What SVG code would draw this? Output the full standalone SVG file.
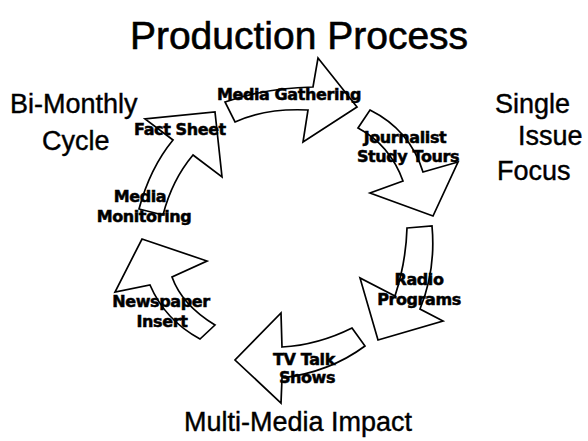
<svg xmlns="http://www.w3.org/2000/svg" width="588" height="441" viewBox="0 0 588 441">
  <style>
    .arrow { fill: #ffffff; stroke: #000000; stroke-width: 1.7; stroke-linejoin: miter; }
    .title { font-family: "Liberation Sans", Arial, sans-serif; font-size: 39px; fill: #000; stroke: #000; stroke-width: 0.6; text-anchor: middle; }
    .side { font-family: "Liberation Sans", Arial, sans-serif; font-size: 27px; fill: #000; stroke: #000; stroke-width: 0.4; }
    .label { font-family: "DejaVu Sans", Verdana, sans-serif; font-weight: bold; font-size: 16px; fill: #000; stroke: #000; stroke-width: 0.5; text-anchor: middle; letter-spacing: -0.4px; }
  </style>
  <rect width="588" height="441" fill="#ffffff"/>

  <text class="title" x="299" y="49">Production Process</text>
  <text class="side" x="10" y="113">Bi-Monthly</text>
  <text class="side" x="42" y="150">Cycle</text>
  <text class="side" x="495" y="113">Single</text>
  <text class="side" x="518" y="145">Issue</text>
  <text class="side" x="497" y="180">Focus</text>
  <text class="side" x="298" y="431" text-anchor="middle" font-size="25.5">Multi-Media Impact</text>

  <g id="connectors">
    <!-- Media Gathering: arrow to the right -->
    <path class="arrow" d="M318,58 L357,107 L303,142 L308,110 Q265,108 235,122 L225,102 Q265,88 313,87 Z"/>
    <!-- Journalist Study Tours: arrow bending down -->
    <path class="arrow" d="M370,110 Q410,130 423,172 L458,162 L433,216 L370,193 L403,181 Q390,145 358,128 Z"/>
    <!-- Radio Programs: arrow down-left -->
    <path class="arrow" d="M407,228 L432,226 Q436,270 420,309 L443,321 L378,340 L360,278 L395,296 Q406,262 407,228 Z"/>
    <!-- TV Talk Shows: arrow to the left -->
    <path class="arrow" d="M352,328 L365,346 Q330,372 282,378 L281,403 L235,360 L281,313 L282,347 Q318,345 352,328 Z"/>
    <!-- Newspaper Insert: arrow up -->
    <path class="arrow" d="M142,239 L207,261 L172,277 Q182,305 215,325 L200,339 Q165,320 150,285 L115,292 Z"/>
    <!-- Media Monitoring / Fact Sheet: arrow up-right -->
    <path class="arrow" d="M215,112 L222,177 L193,155 Q172,180 163,215 L139,209 Q150,168 173,140 L145,119 Z"/>
  </g>

  <g id="media-gathering"><text class="label" x="289" y="100">Media Gathering</text></g>
  <g id="fact-sheet"><text class="label" x="180" y="135">Fact Sheet</text></g>
  <g id="journalist-study-tours">
    <text class="label" x="405" y="143">Journalist</text>
    <text class="label" x="408" y="162">Study Tours</text>
  </g>
  <g id="radio-programs">
    <text class="label" x="419" y="285">Radio</text>
    <text class="label" x="419" y="305">Programs</text>
  </g>
  <g id="tv-talk-shows">
    <text class="label" x="304" y="365">TV Talk</text>
    <text class="label" x="307" y="383">Shows</text>
  </g>
  <g id="newspaper-insert">
    <text class="label" x="161" y="307">Newspaper</text>
    <text class="label" x="162" y="327">Insert</text>
  </g>
  <g id="media-monitoring">
    <text class="label" x="140" y="202">Media</text>
    <text class="label" x="144" y="222">Monitoring</text>
  </g>
</svg>
